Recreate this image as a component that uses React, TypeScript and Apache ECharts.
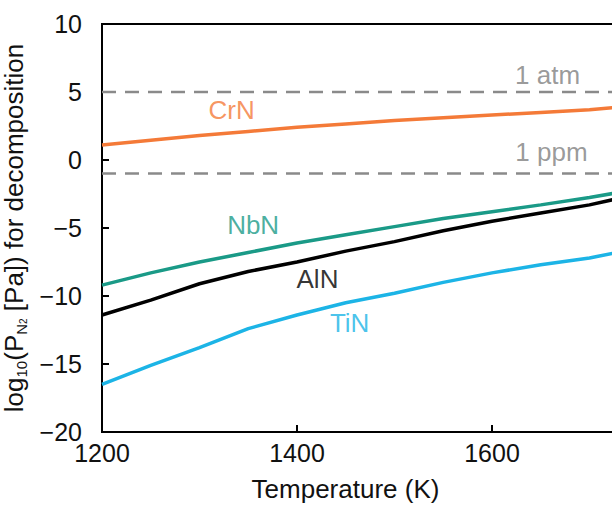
import React, { useEffect, useRef } from "react";
import * as echarts from "echarts";

const temperatures = [1200, 1250, 1300, 1350, 1400, 1450, 1500, 1550, 1600, 1650, 1700, 1725];
const crN = [1.1, 1.45, 1.8, 2.1, 2.4, 2.65, 2.9, 3.1, 3.3, 3.5, 3.7, 3.85];
const nbN = [-9.2, -8.3, -7.5, -6.8, -6.1, -5.5, -4.9, -4.3, -3.8, -3.3, -2.75, -2.45];
const alN = [-11.4, -10.3, -9.1, -8.2, -7.5, -6.7, -6.0, -5.2, -4.5, -3.9, -3.3, -2.9];
const tiN = [-16.5, -15.1, -13.8, -12.4, -11.4, -10.5, -9.8, -9.0, -8.3, -7.7, -7.2, -6.85];

const refLevels = [5, -1];
const refLabels = ["1 atm", "1 ppm"];
const refLabelAnchors = [[1657, 6.25], [1661, 0.59]];

const seriesNames = ["CrN", "NbN", "AlN", "TiN"];
const seriesValues = [crN, nbN, alN, tiN];
const seriesColors = ["#F47A38", "#1A9A87", "#000000", "#1CB4E6"];
const nameAnchors = [[1333, 3.68], [1355, -4.78], [1421, -8.75], [1454, -11.99]];

const xTicksMin = 1200;
const xTicksMax = 1800;
const yMin = -20;
const yMax = 10;

const FONT = "'Liberation Sans', Arial, Helvetica, sans-serif";

export default function App() {
  const ref = useRef<HTMLDivElement>(null);
  useEffect(() => {
    if (!ref.current) return;
    const chart = echarts.init(ref.current, undefined, { renderer: "svg" });
    const series: any[] = [];
    seriesNames.forEach((n, i) => {
      series.push({
        type: "line",
        name: n,
        data: temperatures.map((t, k) => [t, seriesValues[i][k]]),
        showSymbol: false,
        smooth: false,
        lineStyle: { color: seriesColors[i], width: 3.5 },
        z: 3,
      });
      series.push({
        type: "scatter",
        data: [nameAnchors[i]],
        symbolSize: 0,
        label: {
          show: true,
          position: "inside",
          formatter: n,
          color: seriesColors[i],
          fontSize: 26,
          fontFamily: FONT,
        },
        z: 5,
      });
    });
    refLevels.forEach((lv, i) => {
      series.push({
        type: "line",
        data: [[xTicksMin, lv], [xTicksMax, lv]],
        showSymbol: false,
        lineStyle: { color: "#8A8A8A", width: 2.5, type: [14, 9] },
        z: 2,
      });
      series.push({
        type: "scatter",
        data: [refLabelAnchors[i]],
        symbolSize: 0,
        label: {
          show: true,
          position: "inside",
          formatter: refLabels[i],
          color: "#7F7F7F",
          fontSize: 26,
          fontFamily: FONT,
        },
        z: 5,
      });
    });

    chart.setOption({
      animation: false,
      backgroundColor: "#ffffff",
      grid: {
        left: 102,
        right: 13,
        top: 24,
        bottom: 75,
        show: true,
        borderColor: "#000",
        borderWidth: 2,
        backgroundColor: "transparent",
        outerBoundsMode: "none",
        containLabel: false,
      },
      xAxis: {
        type: "value",
        min: xTicksMin,
        max: xTicksMax,
        interval: 200,
        splitLine: { show: false },
        axisLine: { onZero: false, lineStyle: { color: "#000", width: 2 } },
        axisTick: { inside: true, length: 7, lineStyle: { color: "#000", width: 2 } },
        axisLabel: {
          color: "#111",
          fontSize: 25,
          fontFamily: FONT,
          margin: 8,
          showMaxLabel: false,
          formatter: (v: number) => (v >= xTicksMax ? "" : String(v)),
        },
        name: "Temperature (K)",
        nameLocation: "middle",
        nameGap: 44,
        nameTextStyle: { color: "#111", fontSize: 26, fontFamily: FONT, padding: [0, 98, 0, 0] },
      },
      yAxis: {
        type: "value",
        min: yMin,
        max: yMax,
        interval: 5,
        splitLine: { show: false },
        axisLine: { lineStyle: { color: "#000", width: 2 } },
        axisTick: { inside: true, length: 7, lineStyle: { color: "#000", width: 2 } },
        axisLabel: {
          color: "#111",
          fontSize: 25,
          fontFamily: FONT,
          margin: 20,
          formatter: (v: number) => String(v).replace("-", "\u2212"),
        },
        name: "{a|log}{s|10}{a|(P}{s|N}{ss|2}{a| [Pa]) for decomposition}",
        nameLocation: "middle",
        nameRotate: 90,
        nameGap: 66,
        nameTextStyle: {
          color: "#111",
          fontFamily: FONT,
          rich: {
            a: { fontSize: 26, fontFamily: FONT, color: "#111", lineHeight: 30, verticalAlign: "middle" },
            s: { fontSize: 15, fontFamily: FONT, color: "#111", lineHeight: 14, verticalAlign: "bottom" },
            ss: { fontSize: 10, fontFamily: FONT, color: "#111", lineHeight: 8, verticalAlign: "bottom" },
          },
        },
      },
      series,
    });
    return () => chart.dispose();
  }, []);
  return (
    <div style={{ position: "absolute", left: 0, top: 0, width: 612, height: 507, overflow: "hidden" }}>
      <div ref={ref} style={{ width: 700, height: 507 }} />
    </div>
  );
}
